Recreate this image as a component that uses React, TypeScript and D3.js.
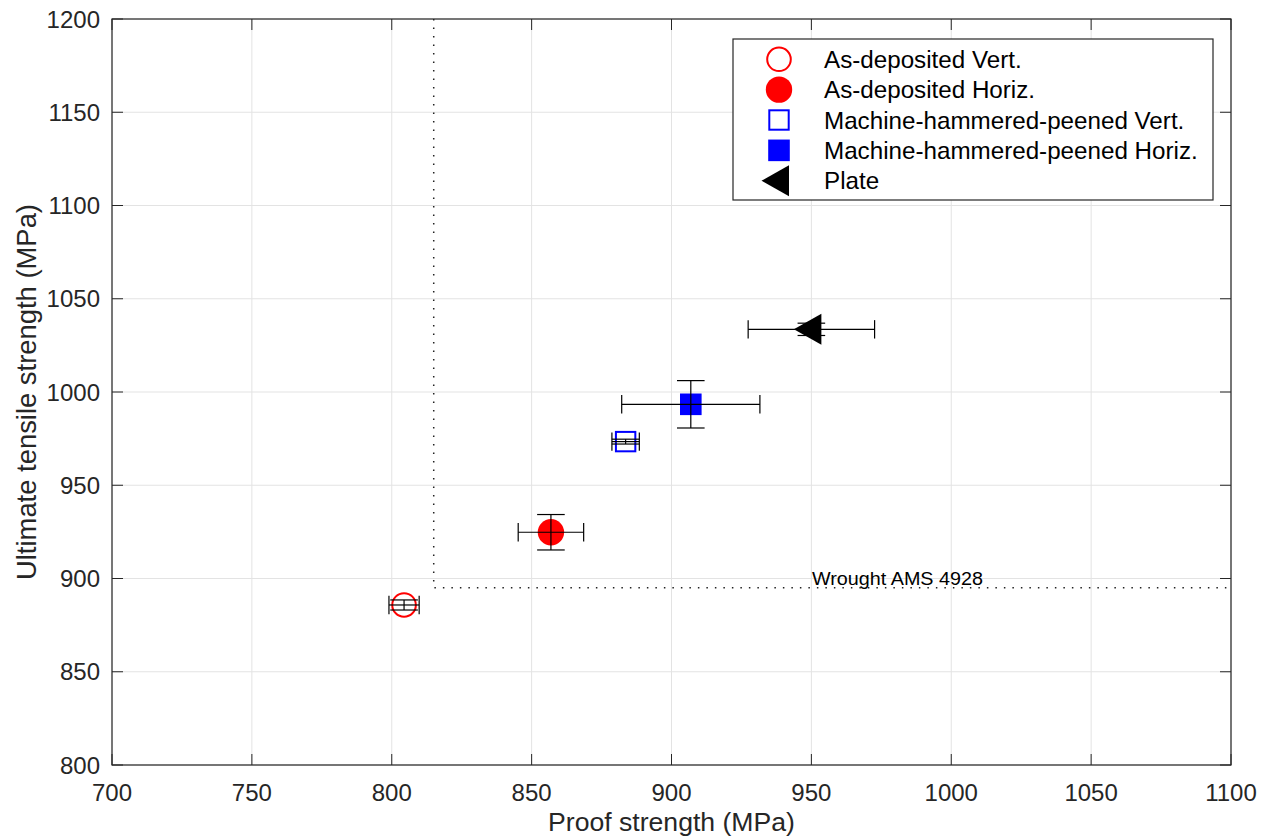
import React from 'react';
import * as d3 from 'd3';

const seriesNames = [
  'As-deposited Vert.',
  'As-deposited Horiz.',
  'Machine-hammered-peened Vert.',
  'Machine-hammered-peened Horiz.',
  'Plate',
];
const markerTypes = ['circleOpen', 'circle', 'squareOpen', 'square', 'triangleLeft'];
const markerColors = ['#ff0000', '#ff0000', '#0000ff', '#0000ff', '#000000'];
const proofStrength = [804.4, 856.9, 883.6, 906.9, 950.0];
const tensileStrength = [885.8, 924.8, 973.4, 993.4, 1033.6];
const proofErr = [5.4, 11.7, 4.9, 24.7, 22.6];
const tensileErr = [2.7, 9.5, 1.3, 12.7, 3.3];
const xTicks = [700, 750, 800, 850, 900, 950, 1000, 1050, 1100];
const yTicks = [800, 850, 900, 950, 1000, 1050, 1100, 1150, 1200];
const wroughtProof = 815;
const wroughtTensile = 895;
const wroughtLabel = 'Wrought AMS 4928';

const W = 1263;
const H = 837;
const left = 112;
const right = 1231;
const top = 19;
const bottom = 765;
const FONT = '"Liberation Sans", Arial, Helvetica, sans-serif';
const AX = '#262626';

function Marker({ type, color, cx, cy }: { type: string; color: string; cx: number; cy: number }) {
  switch (type) {
    case 'circleOpen':
      return <circle cx={cx} cy={cy} r={11.8} fill="none" stroke={color} strokeWidth={2} />;
    case 'circle':
      return <circle cx={cx} cy={cy} r={13.2} fill={color} />;
    case 'squareOpen':
      return <rect x={cx - 9.7} y={cy - 9.7} width={19.4} height={19.4} fill="none" stroke={color} strokeWidth={2} />;
    case 'square':
      return <rect x={cx - 10.8} y={cy - 10.8} width={21.6} height={21.6} fill={color} />;
    case 'triangleLeft':
      return (
        <path
          d={`M${cx - 17.5},${cy} L${cx + 10},${cy - 15.5} L${cx + 10},${cy + 15.5} Z`}
          fill={color}
        />
      );
    default:
      return null;
  }
}

export default function App() {
  const x = d3.scaleLinear().domain([700, 1100]).range([left, right]);
  const y = d3.scaleLinear().domain([800, 1200]).range([bottom, top]);
  const tickLen = 11;
  const capY = 13.8;
  const capX = 9.2;

  const legendX = 733;
  const legendY = 39;
  const legendW = 480;
  const legendH = 161;
  const legendMarkerX = 779;
  const legendTextX = 824;
  const legendRow0 = 59.3;
  const legendStep = 30.35;

  return (
    <svg
      width={W}
      height={H}
      style={{ position: 'absolute', left: 0, top: 0, background: '#fff' }}
      fontFamily={FONT}
    >
      <rect x={0} y={0} width={W} height={H} fill="#fff" />
      {xTicks.map((t) => (
        <line key={'gx' + t} x1={x(t)} x2={x(t)} y1={top} y2={bottom} stroke="#e3e3e3" strokeWidth={1} />
      ))}
      {yTicks.map((t) => (
        <line key={'gy' + t} x1={left} x2={right} y1={y(t)} y2={y(t)} stroke="#e3e3e3" strokeWidth={1} />
      ))}

      <path
        d={`M${x(wroughtProof)},${y(1200)} L${x(wroughtProof)},${y(wroughtTensile)} L${x(1100)},${y(wroughtTensile)}`}
        fill="none"
        stroke="#222"
        strokeWidth={1.5}
        strokeDasharray="1.5 7"
      />
      <text
        x={812}
        y={584.5}
        fontSize={18}
        fill="#000"
        textLength={171}
        lengthAdjust="spacingAndGlyphs"
      >
        {wroughtLabel}
      </text>

      {seriesNames.map((n, i) => (
        <Marker
          key={'m' + n}
          type={markerTypes[i]}
          color={markerColors[i]}
          cx={x(proofStrength[i])}
          cy={y(tensileStrength[i])}
        />
      ))}

      {seriesNames.map((n, i) => {
        const cx = x(proofStrength[i]);
        const cy = y(tensileStrength[i]);
        const xl = x(proofStrength[i] - proofErr[i]);
        const xr = x(proofStrength[i] + proofErr[i]);
        const yt = y(tensileStrength[i] + tensileErr[i]);
        const yb = y(tensileStrength[i] - tensileErr[i]);
        return (
          <g key={'e' + n} stroke="#000" strokeWidth={1.2} fill="none">
            <line x1={xl} x2={xr} y1={cy} y2={cy} />
            <line x1={xl} x2={xl} y1={cy - capX} y2={cy + capX} />
            <line x1={xr} x2={xr} y1={cy - capX} y2={cy + capX} />
            <line x1={cx} x2={cx} y1={yt} y2={yb} />
            <line x1={cx - capY} x2={cx + capY} y1={yt} y2={yt} />
            <line x1={cx - capY} x2={cx + capY} y1={yb} y2={yb} />
          </g>
        );
      })}

      <rect x={left} y={top} width={right - left} height={bottom - top} fill="none" stroke={AX} strokeWidth={1.2} />
      {xTicks.map((t) => (
        <g key={'tx' + t} stroke={AX} strokeWidth={1}>
          <line x1={x(t)} x2={x(t)} y1={bottom} y2={bottom - tickLen} />
          <line x1={x(t)} x2={x(t)} y1={top} y2={top + tickLen} />
        </g>
      ))}
      {yTicks.map((t) => (
        <g key={'ty' + t} stroke={AX} strokeWidth={1}>
          <line x1={left} x2={left + tickLen} y1={y(t)} y2={y(t)} />
          <line x1={right} x2={right - tickLen} y1={y(t)} y2={y(t)} />
        </g>
      ))}
      {xTicks.map((t) => (
        <text key={'lx' + t} x={x(t)} y={801} fontSize={24} fill={AX} textAnchor="middle">
          {t}
        </text>
      ))}
      {yTicks.map((t) => (
        <text key={'ly' + t} x={100} y={y(t) + 8.6} fontSize={24} fill={AX} textAnchor="end">
          {t}
        </text>
      ))}

      <text x={(left + right) / 2} y={831} fontSize={26.6} fill={AX} textAnchor="middle">
        Proof strength (MPa)
      </text>
      <text
        transform={`translate(36,${(top + bottom) / 2}) rotate(-90)`}
        fontSize={27.4}
        fill={AX}
        textAnchor="middle"
      >
        Ultimate tensile strength (MPa)
      </text>

      <rect x={legendX} y={legendY} width={legendW} height={legendH} fill="#fff" stroke={AX} strokeWidth={1.2} />
      {seriesNames.map((n, i) => {
        const ry = legendRow0 + i * legendStep;
        return (
          <g key={'lg' + n}>
            <Marker type={markerTypes[i]} color={markerColors[i]} cx={legendMarkerX} cy={ry} />
            <text x={legendTextX} y={ry + 8.6} fontSize={24.2} fill="#000">
              {n}
            </text>
          </g>
        );
      })}
    </svg>
  );
}
